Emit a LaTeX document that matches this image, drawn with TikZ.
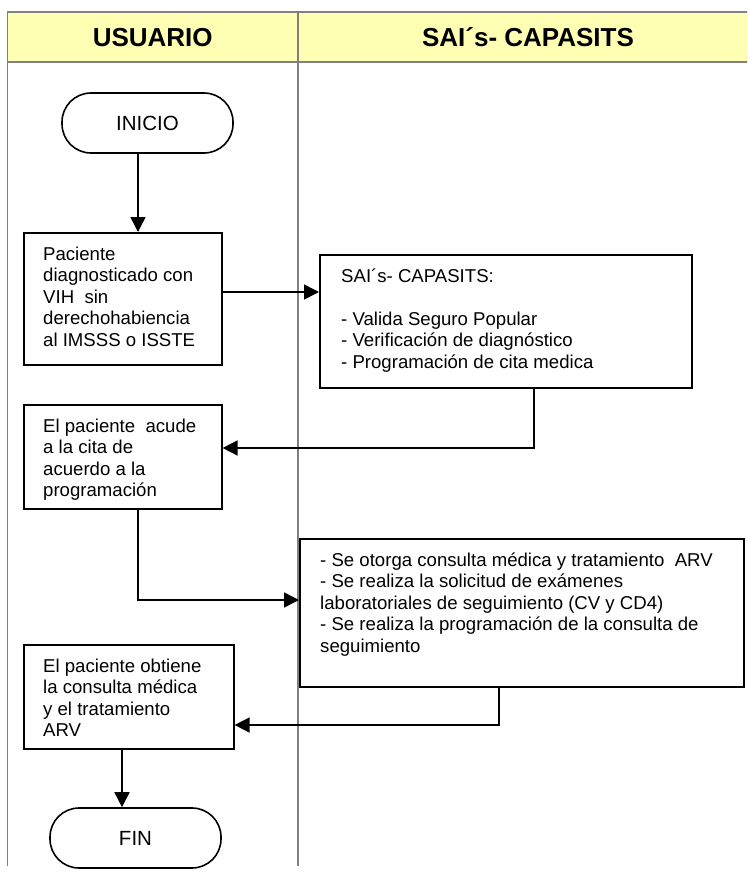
\documentclass[tikz,border=0pt]{standalone}
\usepackage{fontspec}
\setmainfont{Liberation Sans}
\usetikzlibrary{arrows.meta}
\definecolor{hdrfill}{RGB}{255,255,180}
\definecolor{lanegray}{RGB}{128,128,128}
\newcommand\flowtext[1]{\parbox[t]{440pt}{\raggedright #1}}
\begin{document}
\begin{tikzpicture}[x=1pt,y=-1pt,
  arr/.style={line width=1.6pt,-{Triangle[length=15pt,width=15pt]}},
  procbox/.style={draw,line width=1.6pt,anchor=north west,inner sep=0pt},
  boxtext/.style={anchor=base west,inner sep=0pt,font=\fontsize{18.6}{21.6}\selectfont},
  term/.style={draw,line width=1.6pt,rounded corners=29pt,minimum width=171pt,minimum height=60pt,inner sep=0pt,font=\fontsize{20.5}{24}\selectfont},
  hdrtext/.style={anchor=base,inner sep=0pt,font=\fontsize{26}{30}\selectfont\bfseries},
  laneline/.style={draw=lanegray,line width=1.5pt}]
\useasboundingbox (0,0) rectangle (747,875);
\clip (0,0) rectangle (747,875);
% swimlane table
\fill[hdrfill] (7.5,12) rectangle (765,62);
\draw[laneline] (765,12) -- (7.5,12) -- (7.5,866);
\draw[laneline] (7.5,62) -- (765,62);
\draw[laneline] (298,12) -- (298,866);
\node[hdrtext] (h1) at (152.7,47) {USUARIO};
\node[hdrtext] (h2) at (528,47) {SAI´s- CAPASITS};
% terminals
\node[term] (inicio) at (147.5,123) {INICIO};
\node[term] (fin) at (135.5,838) {FIN};
% process boxes
\node[procbox,minimum width=198pt,minimum height=132pt] (b1) at (23,232) {};
\node[boxtext] (t1) at ([shift={(20,28)}]b1.north west) {\flowtext{Paciente\\ diagnosticado con\\ VIH~ sin\\ derechohabiencia\\ al IMSSS o ISSTE}};
\node[procbox,minimum width=372pt,minimum height=133pt] (sai) at (319,254) {};
\node[boxtext] (t2) at ([shift={(22,28)}]sai.north west) {\flowtext{SAI´s- CAPASITS:\\[21.6pt] - Valida Seguro Popular\\ - Verificación de diagnóstico\\ - Programación de cita medica}};
\node[procbox,minimum width=198pt,minimum height=104pt] (b2) at (23,404) {};
\node[boxtext] (t3) at ([shift={(20,28)}]b2.north west) {\flowtext{El paciente~ acude\\ a la cita de\\ acuerdo a la\\ programación}};
\node[procbox,minimum width=444pt,minimum height=148pt] (b3) at (299,538) {};
\node[boxtext] (t4) at ([shift={(21,28)}]b3.north west) {\flowtext{- Se otorga consulta médica y tratamiento~ ARV\\ - Se realiza la solicitud de exámenes\\ laboratoriales de seguimiento (CV y CD4)\\ - Se realiza la programación de la consulta de\\ seguimiento}};
\node[procbox,minimum width=210pt,minimum height=104pt] (b4) at (23,644) {};
\node[boxtext] (t5) at ([shift={(20,28)}]b4.north west) {\flowtext{El paciente obtiene\\ la consulta médica\\ y el tratamiento\\ ARV}};
% connectors
\draw[arr] (inicio.south -| 138,0) -- (b1.north -| 138,0);
\draw[arr] (b1.east |- 0,292) -- (sai.west |- 0,292);
\draw[arr] (sai.south -| 534,0) |- (b2.east |- 0,448);
\draw[arr] (b2.south -| 138,0) |- (b3.west |- 0,600);
\draw[arr] (b3.south -| 499,0) |- (b4.east |- 0,725);
\draw[arr] (b4.south -| 122,0) -- (fin.north -| 122,0);
\end{tikzpicture}
\end{document}
